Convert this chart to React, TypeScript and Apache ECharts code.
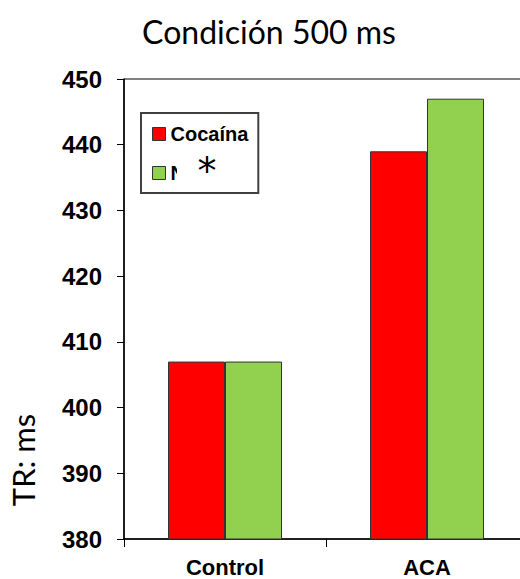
import React, { useEffect, useRef } from "react";
import * as echarts from "echarts";

const categories = ["Control", "ACA"];
const seriesNames = ["Cocaína", "N"];
const cocainaValues = [407, 439];
const nValues = [407, 447];
const yMin = 380;
const yMax = 450;
const yInterval = 10;

export default function App() {
  const ref = useRef<HTMLDivElement>(null);
  useEffect(() => {
    if (!ref.current) return;
    const chart = echarts.init(ref.current, undefined, { renderer: "svg" });
    chart.setOption({
      animation: false,
      backgroundColor: "#ffffff",
      title: {
        text: "Condición 500 ms",
        left: 264,
        top: 10,
        textAlign: "center",
        textStyle: {
          fontFamily: "Lato",
          fontSize: 32,
          fontWeight: "normal",
          color: "#000",
        },
      },
      legend: {
        orient: "vertical",
        left: 141,
        top: 113,
        padding: [11, 10, 10, 11],
        itemGap: 19,
        itemWidth: 13,
        itemHeight: 13,
        icon: "rect",
        borderColor: "#404040",
        borderWidth: 2,
        backgroundColor: "#fff",
        itemStyle: { borderColor: "#333", borderWidth: 1 },
        textStyle: {
          fontFamily: "Liberation Sans",
          fontWeight: "bold",
          fontSize: 20,
          lineHeight: 20,
          color: "#000",
        },
        data: seriesNames,
      },
      grid: {
        left: 124,
        top: 79,
        width: 404,
        height: 460,
        outerBoundsMode: "none",
        containLabel: false,
        show: true,
        borderColor: "#000",
        borderWidth: 1,
        backgroundColor: "transparent",
      },
      xAxis: {
        type: "category",
        data: categories,
        axisLine: { lineStyle: { color: "#000", width: 1.5 } },
        axisTick: { show: true, length: 8, lineStyle: { color: "#000" } },
        axisLabel: {
          fontFamily: "Liberation Sans",
          fontWeight: "bold",
          fontSize: 22,
          color: "#000",
          margin: 17,
        },
      },
      yAxis: {
        type: "value",
        min: yMin,
        max: yMax,
        interval: yInterval,
        axisLine: { show: true, lineStyle: { color: "#000", width: 1.5 } },
        axisTick: { show: true, length: 7, lineStyle: { color: "#000" } },
        splitLine: { show: false },
        axisLabel: {
          fontFamily: "Liberation Sans",
          fontWeight: "bold",
          fontSize: 24,
          color: "#000",
          margin: 22,
        },
      },
      series: [
        {
          name: seriesNames[0],
          type: "bar",
          data: cocainaValues,
          barWidth: 57,
          barGap: "0%",
          itemStyle: { color: "#FF0000", borderColor: "#333", borderWidth: 1 },
        },
        {
          name: seriesNames[1],
          type: "bar",
          data: nValues,
          barWidth: 57,
          barGap: "0%",
          itemStyle: { color: "#92D050", borderColor: "#333", borderWidth: 1 },
        },
      ],
      graphic: [
        {
          type: "text",
          x: 23,
          y: 460,
          rotation: Math.PI / 2,
          style: {
            text: "TR: ms",
            fontFamily: "Lato",
            fontSize: 31,
            fill: "#000",
            align: "center",
            verticalAlign: "middle",
          },
        },
        {
          type: "rect",
          z: 90,
          shape: { x: 177, y: 158, width: 22, height: 26 },
          style: { fill: "#fff" },
        },
        {
          type: "text",
          x: 207,
          y: 171,
          z: 100,
          style: {
            text: "*",
            fontFamily: "DejaVu Sans",
            fontSize: 38,
            fill: "#000",
            align: "center",
            verticalAlign: "middle",
          },
        },
      ],
    });
    return () => chart.dispose();
  }, []);
  return (
    <div
      ref={ref}
      style={{ position: "fixed", left: 0, top: 0, width: 520, height: 579 }}
    />
  );
}
